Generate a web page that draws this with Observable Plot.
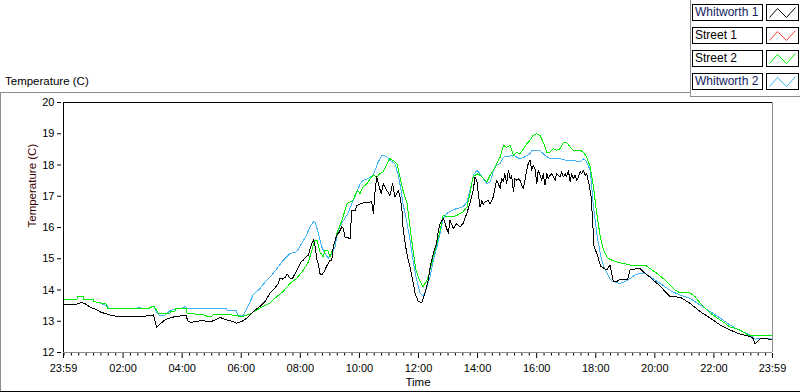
<!DOCTYPE html>
<html>
<head>
<meta charset="utf-8">
<script src="https://cdn.jsdelivr.net/npm/d3@7"></script>
<script src="https://cdn.jsdelivr.net/npm/@observablehq/plot@0.6"></script>
<style>
  body { margin: 0; background: #fff; font-family: "Liberation Sans", Arial, sans-serif; }
  #wrap { position: relative; width: 800px; height: 392px; overflow: hidden; background: #fff; }
  #wrap svg.chart { position: absolute; left: 0; top: 0; }
  .title { position: absolute; left: 5px; top: 74px; font-size: 11.5px; line-height: 14px; color: #000; }
  .frameTop { position: absolute; left: 0; top: 92px; width: 690px; height: 0; border-top: 1px solid #8c8c8c; }
  .frameLeft { position: absolute; left: 0; top: 92px; width: 0; height: 300px; border-left: 1px solid #8c8c8c; }
  .frameBottom { position: absolute; left: 0; top: 391px; width: 800px; height: 0; border-top: 1px solid #000; }
  .legFrameL { position: absolute; left: 690px; top: 0; width: 0; height: 96px; border-left: 1px solid #8c8c8c; }
  .legFrameB { position: absolute; left: 690px; top: 96px; width: 110px; height: 0; border-top: 1px solid #8c8c8c; }
  .legLabel { position: absolute; left: 692px; width: 71px; height: 17px; box-sizing: border-box; border: 1px solid #000;
              background: #fff; font-size: 12px; line-height: 15px; padding-left: 2px; white-space: nowrap; overflow: hidden; }
  .legSwatch { position: absolute; left: 766px; width: 33px; height: 17px; box-sizing: border-box; border: 1px solid #000; background: #fff; }
  .legSwatch svg { position: absolute; left: 0; top: 0; }
</style>
</head>
<body>
<div id="wrap"></div>
<script>
// ---- data (hours after 23:59, temperature in C) ----
const seriesNames = ["Whitworth 1", "Street 1", "Street 2", "Whitworth 2"];
const seriesColors = ["#000000", "#ff3c3c", "#00ee00", "#40b4f8"];
const legendTextColors = ["#102060", "#000000", "#000000", "#102060"];

const whitworth1 = [
  [0,13.52],[0.2,13.55],[0.4,13.53],[0.6,13.6],[0.75,13.55],[0.9,13.45],[1.1,13.38],[1.24,13.3],[1.4,13.25],
  [1.57,13.2],[1.85,13.15],[2.1,13.14],[2.4,13.15],[2.7,13.16],[2.95,13.18],[3.05,13.2],[3.1,13.0],[3.15,12.81],
  [3.25,12.9],[3.44,13.05],[3.6,13.1],[3.77,13.15],[3.95,13.17],[4.1,13.2],[4.15,13.2],[4.2,13.02],[4.3,12.96],
  [4.5,13.0],[4.7,13.02],[4.96,12.99],[5.1,13.02],[5.3,13.12],[5.5,13.05],[5.7,13.0],[5.86,12.94],[6.05,13.0],
  [6.2,13.1],[6.31,13.2],[6.48,13.36],[6.65,13.47],[6.82,13.63],[6.99,13.9],[7.1,14.0],[7.27,14.21],[7.33,14.37],
  [7.42,14.35],[7.5,14.4],[7.58,14.51],[7.67,14.37],[7.76,14.38],[7.84,14.53],[7.95,14.72],[8.04,14.9],[8.12,14.96],
  [8.21,15.06],[8.29,15.12],[8.4,15.49],[8.46,15.6],[8.51,15.44],[8.57,15.01],[8.63,14.8],[8.68,14.53],[8.74,14.48],
  [8.82,14.58],[8.91,14.77],[9.02,14.94],[9.08,14.95],[9.13,15.38],[9.25,15.76],[9.34,15.86],[9.42,16.02],[9.47,15.98],
  [9.53,15.7],[9.59,15.68],[9.7,15.65],[9.76,16.55],[9.87,16.55],[9.93,16.71],[10.15,16.79],[10.43,16.82],[10.49,16.45],
  [10.55,17.19],[10.6,17.62],[10.69,17.3],[10.75,17.09],[10.83,17.4],[10.94,17.19],[11.05,17.03],[11.14,17.4],[11.22,16.98],
  [11.33,17.19],[11.39,16.98],[11.45,16.66],[11.5,15.91],[11.62,15.17],[11.73,14.74],[11.84,14.21],[11.9,13.9],[12.01,13.63],
  [12.13,13.6],[12.24,13.9],[12.35,14.32],[12.41,14.74],[12.52,15.17],[12.63,15.49],[12.69,15.91],[12.75,16.13],[12.86,16.29],
  [12.97,15.97],[13.03,15.81],[13.08,16.23],[13.2,15.97],[13.31,16.13],[13.42,16.02],[13.53,16.13],[13.65,16.45],[13.76,16.77],
  [13.87,17.19],[13.93,17.62],[13.99,17.51],[14.04,17.09],[14.1,16.66],[14.16,16.85],[14.21,16.75],[14.27,16.82],[14.38,16.87],
  [14.44,16.75],[14.55,16.98],[14.66,17.51],[14.72,17.4],[14.78,17.25],[14.83,17.56],[14.89,17.46],[14.94,17.72],[15.0,17.4],
  [15.06,17.83],[15.12,17.56],[15.17,17.67],[15.23,17.14],[15.28,17.56],[15.34,17.51],[15.4,17.56],[15.45,17.51],[15.51,17.35],
  [15.57,17.25],[15.62,17.51],[15.68,17.83],[15.73,18.04],[15.79,18.15],[15.85,17.83],[15.9,17.99],[15.96,17.88],[16.02,17.4],
  [16.07,17.83],[16.13,17.67],[16.19,17.51],[16.24,17.72],[16.3,17.35],[16.36,17.72],[16.41,17.56],[16.47,17.67],[16.53,17.72],
  [16.58,17.62],[16.64,17.51],[16.69,17.72],[16.81,17.62],[16.86,17.78],[16.92,17.62],[16.98,17.72],[17.03,17.62],[17.09,17.83],
  [17.15,17.46],[17.2,17.72],[17.26,17.56],[17.32,17.67],[17.37,17.51],[17.43,17.62],[17.49,17.78],[17.54,17.72],[17.6,17.83],
  [17.66,17.67],[17.71,17.72],[17.8,17.35],[17.86,16.98],[17.91,16.23],[17.96,15.38],[18.05,15.18],[18.12,14.96],[18.19,14.74],
  [18.22,14.74],[18.39,14.64],[18.5,14.8],[18.61,14.27],[18.73,14.27],[18.84,14.35],[18.94,14.32],[19.1,14.35],[19.18,14.64],
  [19.35,14.67],[19.5,14.7],[19.68,14.54],[19.85,14.41],[20.02,14.27],[20.2,14.13],[20.36,13.95],[20.53,13.79],[20.87,13.77],
  [21.2,13.58],[21.55,13.31],[21.89,13.1],[22.23,12.88],[22.56,12.72],[22.9,12.59],[23.24,12.51],[23.35,12.45],[23.41,12.28],
  [23.5,12.35],[23.58,12.43],[23.75,12.46],[23.9,12.42],[24,12.4]
];

const street1 = [];

const street2 = [
  [0,13.7],[0.45,13.7],[0.49,13.8],[0.66,13.8],[0.68,13.7],[1.0,13.7],[1.02,13.63],[1.45,13.55],[1.48,13.42],
  [2.9,13.42],[3.06,13.49],[3.2,13.26],[3.6,13.26],[3.62,13.3],[3.77,13.3],[3.8,13.42],[4.15,13.42],[4.18,13.26],
  [4.75,13.2],[4.89,13.15],[5.0,13.15],[5.1,13.23],[5.64,13.23],[5.7,13.2],[5.9,13.2],[5.92,13.15],[6.08,13.15],
  [6.2,13.2],[6.31,13.23],[6.54,13.36],[6.75,13.47],[6.99,13.58],[7.22,13.79],[7.43,13.95],[7.67,14.21],[7.89,14.37],
  [8.12,14.64],[8.29,14.9],[8.41,15.28],[8.51,15.6],[8.58,15.6],[8.68,15.22],[8.79,15.06],[8.85,15.28],[8.95,15.25],
  [9.02,15.06],[9.13,15.33],[9.25,15.81],[9.36,16.07],[9.46,16.34],[9.6,16.77],[9.7,16.82],[9.8,16.87],[9.94,17.19],
  [10.04,17.09],[10.14,17.3],[10.27,17.4],[10.38,17.56],[10.48,17.67],[10.61,17.62],[10.71,17.72],[10.82,17.78],[10.95,18.04],
  [11.05,18.2],[11.15,18.15],[11.29,18.04],[11.39,17.62],[11.49,17.19],[11.63,16.77],[11.73,16.02],[11.83,15.28],[11.93,14.64],
  [12.07,14.27],[12.17,14.1],[12.31,14.32],[12.41,14.64],[12.51,15.06],[12.64,15.49],[12.75,15.91],[12.85,16.39],[12.98,16.34],
  [13.19,16.34],[13.32,16.39],[13.42,16.45],[13.52,16.5],[13.66,16.66],[13.76,17.09],[13.86,17.62],[14.0,17.72],[14.1,17.67],
  [14.33,17.46],[14.44,17.67],[14.55,17.83],[14.66,18.04],[14.78,18.25],[14.89,18.63],[15.0,18.57],[15.12,18.63],[15.23,18.31],
  [15.34,18.41],[15.45,18.36],[15.57,18.52],[15.68,18.68],[15.79,18.79],[15.9,18.95],[16.02,19.0],[16.13,18.95],[16.24,18.73],
  [16.36,18.41],[16.47,18.41],[16.58,18.52],[16.69,18.47],[16.81,18.52],[16.92,18.73],[17.03,18.73],[17.15,18.57],[17.26,18.47],
  [17.49,18.47],[17.6,18.41],[17.71,18.25],[17.83,17.94],[17.94,17.3],[18.05,16.45],[18.17,15.7],[18.28,15.28],[18.39,15.06],
  [18.5,14.98],[18.62,14.93],[18.73,14.9],[18.94,14.85],[19.18,14.8],[19.68,14.8],[19.85,14.69],[20.02,14.58],[20.2,14.45],
  [20.36,14.32],[20.53,14.16],[20.7,14.0],[20.87,13.91],[21.2,13.91],[21.38,13.79],[21.55,13.58],[21.72,13.42],[21.89,13.26],
  [22.06,13.15],[22.23,13.04],[22.39,12.94],[22.56,12.81],[22.73,12.78],[22.9,12.72],[23.07,12.62],[23.24,12.53],[24,12.53]
];

const whitworth2 = [
  [0,13.68],[0.45,13.7],[0.49,13.8],[0.66,13.8],[0.68,13.7],[1.0,13.7],[1.02,13.63],[1.2,13.6],[1.3,13.55],[1.48,13.5],
  [1.52,13.42],[2.5,13.42],[2.56,13.46],[2.62,13.42],[2.9,13.42],[2.95,13.45],[3.06,13.49],[3.12,13.35],[3.2,13.22],
  [3.27,13.17],[3.44,13.2],[3.6,13.34],[3.94,13.42],[4.08,13.43],[4.11,13.49],[4.2,13.4],[4.62,13.4],[5.0,13.42],
  [5.5,13.42],[5.55,13.34],[5.85,13.34],[5.9,13.17],[6.08,13.17],[6.2,13.4],[6.42,13.84],[6.65,14.05],[6.88,14.32],
  [7.05,14.48],[7.27,14.74],[7.44,14.96],[7.67,15.17],[7.89,15.22],[8.06,15.49],[8.23,15.76],[8.34,16.02],[8.46,16.18],
  [8.51,16.2],[8.63,15.81],[8.74,15.38],[8.85,15.17],[8.96,15.01],[9.08,15.17],[9.19,15.38],[9.25,15.7],[9.36,16.05],
  [9.53,16.3],[9.65,16.5],[9.8,16.85],[9.87,16.98],[10.04,17.4],[10.14,17.51],[10.31,17.56],[10.48,17.67],[10.65,18.09],
  [10.78,18.31],[10.92,18.28],[11.05,18.15],[11.22,18.04],[11.32,17.72],[11.43,17.19],[11.49,16.77],[11.6,16.28],[11.73,15.6],
  [11.83,14.96],[11.93,14.43],[12.07,13.9],[12.17,13.81],[12.27,14.0],[12.41,14.43],[12.51,14.9],[12.64,15.38],[12.75,15.81],
  [12.85,16.28],[12.98,16.45],[13.15,16.55],[13.32,16.61],[13.52,16.66],[13.66,16.82],[13.76,17.19],[13.9,17.72],[14.0,17.83],
  [14.1,17.72],[14.33,17.4],[14.44,17.45],[14.55,17.8],[14.66,18.0],[14.78,18.04],[14.89,18.25],[15.23,18.31],[15.45,18.2],
  [15.6,18.25],[15.79,18.36],[15.85,18.47],[16.13,18.45],[16.3,18.31],[16.47,18.2],[16.81,18.2],[17.03,18.15],[17.26,18.15],
  [17.49,18.1],[17.6,18.2],[17.71,18.1],[17.83,17.83],[17.88,17.3],[17.94,16.66],[18.0,16.23],[18.05,15.81],[18.11,15.49],
  [18.17,15.17],[18.22,14.96],[18.3,14.74],[18.4,14.55],[18.5,14.35],[18.6,14.27],[18.84,14.21],[19.01,14.27],[19.18,14.37],
  [19.35,14.48],[19.5,14.53],[19.68,14.53],[19.85,14.43],[20.02,14.32],[20.2,14.21],[20.36,14.1],[20.6,13.95],[20.87,13.84],
  [21.2,13.74],[21.55,13.52],[21.89,13.31],[22.23,13.1],[22.56,12.88],[22.9,12.7],[23.24,12.56],[23.41,12.43],[23.58,12.45],[24,12.43]
];

const yTicks = [12, 13, 14, 15, 16, 17, 18, 19, 20];
const xTickLabels = ["23:59","02:00","04:00","06:00","08:00","10:00","12:00","14:00","16:00","18:00","20:00","22:00","23:59"];
const yAxisTitle = "Temperature (C)";
const xAxisTitle = "Time";
const chartTitle = "Temperature (C)";

// ---- derived ----
const startMin = 23 * 60 + 59;
const majorMins = xTickLabels.map((lab, i) => {
  if (i === xTickLabels.length - 1) return 1440;
  const [h, m] = lab.split(":").map(Number);
  return ((h * 60 + m) - startMin + 1440) % 1440;
});
const labelByMin = new Map(majorMins.map((m, i) => [m, xTickLabels[i]]));
const minorMins = d3.range(1, 1440, 15).filter(m => !labelByMin.has(m));

const bySeries = { "Whitworth 1": whitworth1, "Street 1": street1, "Street 2": street2, "Whitworth 2": whitworth2 };
const drawOrder = ["Whitworth 2", "Street 2", "Street 1", "Whitworth 1"];
const rows = [];
for (const name of drawOrder) for (const [h, t] of bySeries[name]) rows.push({ series: name, min: h * 60, temp: t });

const chart = Plot.plot({
  width: 800,
  height: 392,
  marginLeft: 63,
  marginRight: 28,
  marginTop: 102,
  marginBottom: 40,
  style: { fontFamily: "'Liberation Sans', Arial, sans-serif", fontSize: "11px", color: "#000", background: "transparent" },
  x: { domain: [0, 1440], axis: null },
  y: { domain: [12, 20], axis: null },
  color: { domain: seriesNames, range: seriesColors },
  marks: [
    Plot.line(rows, { x: "min", y: "temp", z: "series", stroke: "series", strokeWidth: 1, shapeRendering: "crispEdges" }),
    Plot.ruleY([12], { stroke: "#8c8c8c" }),
    Plot.ruleX([1440], { stroke: "#8c8c8c" }),
    Plot.ruleX([0], { stroke: "#000" }),
    Plot.ruleY([20], { stroke: "#000" }),
    Plot.axisY({ ticks: yTicks, tickSize: 4, dx: -2, tickPadding: 3, tickFormat: d => String(d), label: null }),
    Plot.axisX({ ticks: majorMins, tickSize: 5, dy: 1, tickPadding: 6, tickFormat: d => labelByMin.get(d), label: null }),
    Plot.axisX({ ticks: minorMins, tickSize: 2.5, dy: 1, tickFormat: () => "", label: null }),
    Plot.text([yAxisTitle], { frameAnchor: "left", dx: -31, rotate: -90, fill: "#3c0000", fontSize: 11.5 }),
    Plot.text([xAxisTitle], { frameAnchor: "bottom", dy: 33, fill: "#000", fontSize: 11.5 })
  ]
});
chart.classList.add("chart");

const wrap = document.getElementById("wrap");
wrap.appendChild(chart);

function addDiv(cls, text) {
  const d = document.createElement("div");
  d.className = cls;
  if (text != null) d.textContent = text;
  wrap.appendChild(d);
  return d;
}
addDiv("frameTop");
addDiv("frameLeft");
addDiv("frameBottom");
addDiv("legFrameL");
addDiv("legFrameB");
addDiv("title", chartTitle);

seriesNames.forEach((name, i) => {
  const top = 4 + i * 23;
  const lab = addDiv("legLabel", name);
  lab.style.top = top + "px";
  lab.style.color = legendTextColors[i];
  const sw = addDiv("legSwatch");
  sw.style.top = top + "px";
  const ns = "http://www.w3.org/2000/svg";
  const s = document.createElementNS(ns, "svg");
  s.setAttribute("width", 31); s.setAttribute("height", 15);
  const p = document.createElementNS(ns, "polyline");
  p.setAttribute("points", "2.5,12.5 10.5,3.5 19.5,12.5 28.5,2.5");
  p.setAttribute("fill", "none");
  p.setAttribute("stroke", seriesColors[i]);
  p.setAttribute("stroke-width", "1");
  s.appendChild(p);
  sw.appendChild(s);
});
</script>
</body>
</html>
